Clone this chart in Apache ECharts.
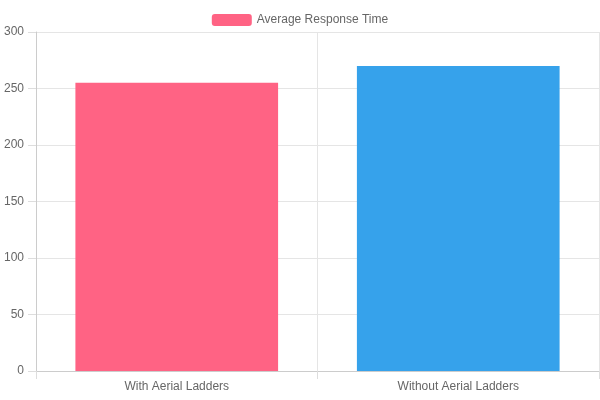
<!DOCTYPE html>
<html>
<head>
<meta charset="UTF-8" />
<script src="https://cdn.jsdelivr.net/npm/echarts@6/dist/echarts.min.js"></script>
</head>
<body style="margin:0">
<div id="main" style="width:600px;height:400px"></div>
<script>
var categories = ['With Aerial Ladders', 'Without Aerial Ladders'];
var responseTimes = [255, 270];
var barColors = ['#ff6384', '#36a2eb'];

var chart = echarts.init(document.getElementById('main'));
chart.setOption({
    animation: false,
    textStyle: { fontFamily: 'Liberation Sans, Arial, sans-serif' },
    legend: {
        top: 9,
        itemWidth: 40,
        itemHeight: 12,
        textStyle: { color: '#666', fontSize: 12 },
        data: [{ name: 'Average Response Time', itemStyle: { color: 'rgba(255,99,132,1)' } }]
    },
    grid: { left: 36, right: 1, top: 32, bottom: 29 },
    xAxis: {
        type: 'category',
        data: categories,
        axisLine: { lineStyle: { color: '#ccc' } },
        axisTick: { show: true, length: 8, lineStyle: { color: '#ddd' } },
        splitLine: { show: true, lineStyle: { color: '#e5e5e5' } },
        axisLabel: { color: '#666', fontSize: 12, margin: 10 }
    },
    yAxis: {
        type: 'value',
        min: 0,
        max: 300,
        interval: 50,
        axisLine: { show: true, lineStyle: { color: '#ccc' } },
        axisTick: { show: true, length: 8, lineStyle: { color: '#ddd' } },
        splitLine: { lineStyle: { color: '#e5e5e5' } },
        axisLabel: { color: '#666', fontSize: 12, margin: 12 }
    },
    series: [{
        name: 'Average Response Time',
        type: 'bar',
        barWidth: '72%',
        data: responseTimes.map(function (v, i) {
            return { value: v, itemStyle: { color: barColors[i] } };
        })
    }]
});
</script>
</body>
</html>
